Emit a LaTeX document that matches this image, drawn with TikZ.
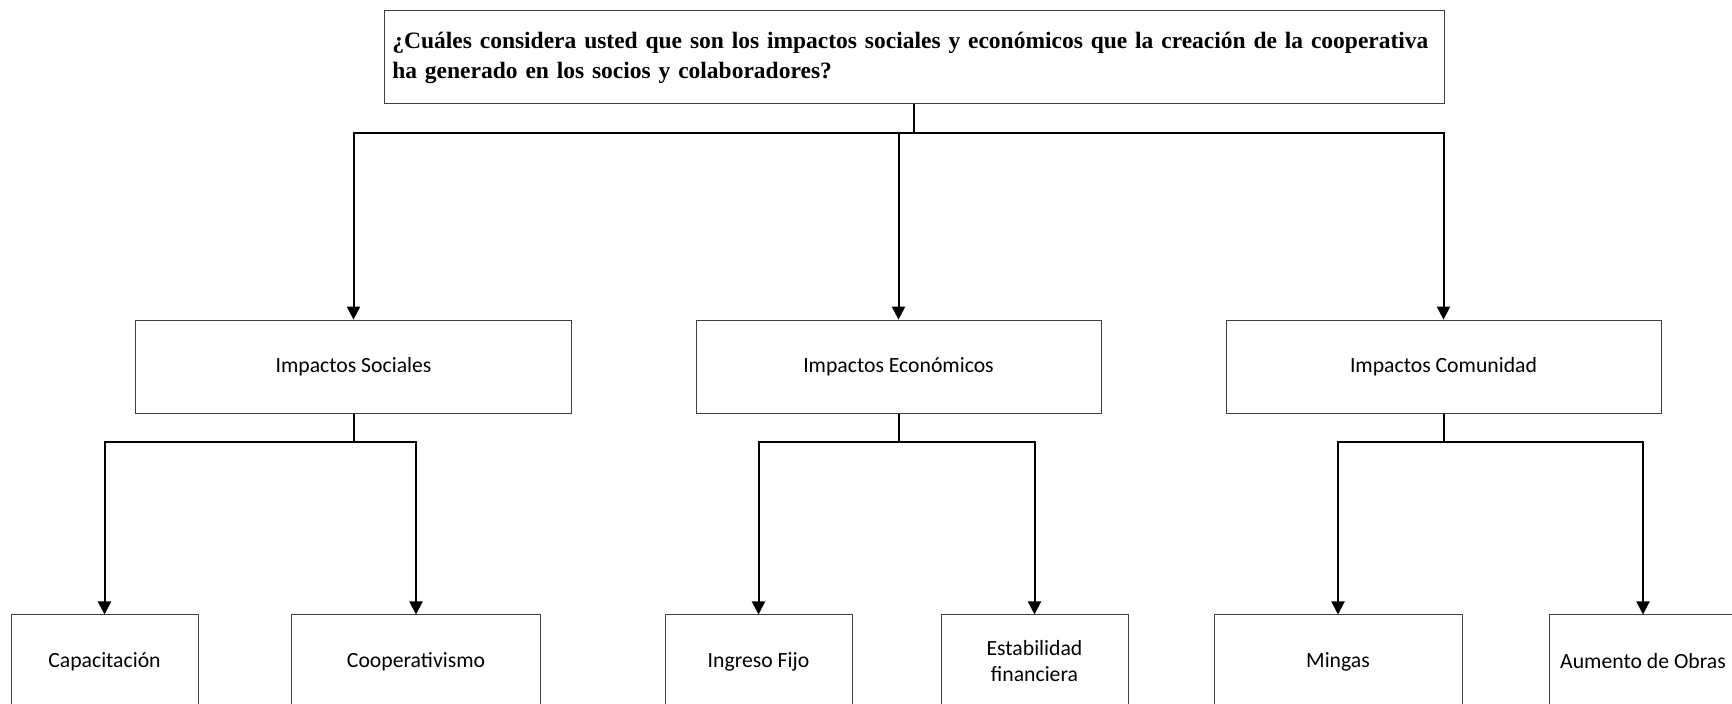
\documentclass[tikz,border=0pt]{standalone}
\usepackage{fontspec}
\setmainfont{Carlito}
\newfontfamily\qfont{Liberation Serif}
\usetikzlibrary{arrows.meta}
\tikzset{
  box/.style={draw=black!75, line width=1pt, minimum height=93pt, inner sep=0pt, align=center, font=\fontsize{21.7}{26}\selectfont},
  conn/.style={line width=2pt, -{Triangle[width=13pt,length=13pt]}}
}
\begin{document}
\begin{tikzpicture}[x=1pt,y=1pt]
  \clip (0,0) rectangle (1732,704);
  \node[box, minimum width=1059.3pt, text width=1044pt, align=left, font=\qfont\bfseries\fontsize{23.5}{30}\selectfont] (q) at (914.35,646.5)
    {¿Cuáles considera usted que son los impactos sociales y económicos que la creación de la cooperativa\\ha generado en los socios y colaboradores?};
  \node[box, minimum width=436.4pt] (soc) at (353.5,337.35) {Impactos Sociales};
  \node[box, minimum width=405pt] (eco) at (898.5,337.35) {Impactos Económicos};
  \node[box, minimum width=435pt] (com) at (1443.5,337.35) {Impactos Comunidad};
  \foreach \n/\x/\w/\t in {cap/104.5/187/{Capacitación},coop/416/249.7/{Cooperativismo},ing/758.5/187/{Ingreso Fijo},est/1034.5/187/{Estabilidad\\financiera},min/1338/248/{Mingas},aum/1643/188/{Aumento de Obras}}
  {
    \node[box, minimum width=\w pt] (\n) at (\x,42.5) {\t};
  }
  \foreach \p/\c in {q/soc,q/eco,q/com}
    \draw[conn] (\p.south) -- ++(0,-28.7) -| (\c.north);
  \foreach \p/\c in {soc/cap,soc/coop,eco/ing,eco/est,com/min,com/aum}
    \draw[conn] (\p.south) -- ++(0,-28.4) -| (\c.north);
\end{tikzpicture}
\end{document}
